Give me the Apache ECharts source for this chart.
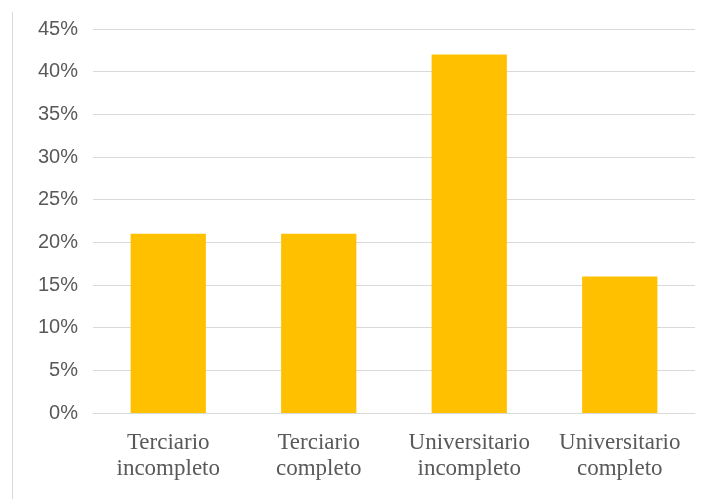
<!DOCTYPE html>
<html>
<head>
<meta charset="utf-8">
<script src="https://cdn.jsdelivr.net/npm/echarts@6/dist/echarts.min.js"></script>
<style>
  html, body { margin: 0; padding: 0; background: #fff; }
  #chart { width: 709px; height: 499px; }
</style>
</head>
<body>
<div id="chart"></div>
<script>
// Education level categories and their shares (%)
const categories = [
  'Terciario\nincompleto',
  'Terciario\ncompleto',
  'Universitario\nincompleto',
  'Universitario\ncompleto'
];
const shares = [21, 21, 42, 16];

// Value axis range and step (%)
const axisMin = 0;
const axisMax = 45;
const axisStep = 5;

const chart = echarts.init(document.getElementById('chart'));
chart.setOption({
  animation: false,
  backgroundColor: '#ffffff',
  graphic: [{
    type: 'line',
    shape: { x1: 12.5, y1: 12, x2: 12.5, y2: 499 },
    style: { stroke: '#d9d9d9', lineWidth: 1 }
  }],
  grid: { left: 93, right: 14, top: 29, bottom: 86 },
  xAxis: {
    type: 'category',
    data: categories,
    axisLine: { show: true, lineStyle: { color: '#d9d9d9', width: 1 } },
    axisTick: { show: false },
    axisLabel: {
      interval: 0,
      hideOverlap: false,
      fontFamily: '"Liberation Serif", "DejaVu Serif", serif',
      fontSize: 23,
      color: '#595959',
      lineHeight: 26,
      margin: 17
    }
  },
  yAxis: {
    type: 'value',
    min: axisMin,
    max: axisMax,
    interval: axisStep,
    axisLine: { show: false },
    axisTick: { show: false },
    splitLine: { lineStyle: { color: '#d9d9d9', width: 1 } },
    axisLabel: {
      formatter: '{value}%',
      fontFamily: '"Liberation Sans", "DejaVu Sans", sans-serif',
      fontSize: 20,
      color: '#595959',
      margin: 15
    }
  },
  series: [{
    type: 'bar',
    data: shares,
    barWidth: '50%',
    itemStyle: { color: '#ffc000' }
  }]
});
</script>
</body>
</html>
